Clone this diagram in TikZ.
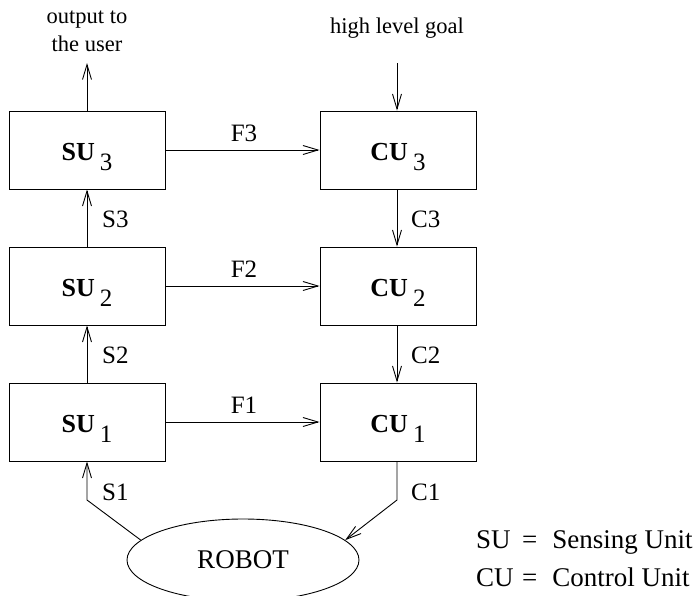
\documentclass[tikz,border=0pt]{standalone}
\usepackage{fontspec}
\setmainfont{Liberation Serif}
\usetikzlibrary{arrows.meta,shapes.geometric}
\newcommand\unittxt[2]{{\fontsize{26}{30}\selectfont\bfseries #1}\hspace{5pt}\raisebox{-10pt}{\fontsize{25}{30}\selectfont #2}}
\begin{document}
\begin{tikzpicture}[x=1pt,y=-1pt,
  unit/.style={draw, line width=0.9pt, minimum width=156pt, minimum height=78pt, inner sep=0pt, text height=20pt, text depth=0pt},
  conn/.style={line width=0.9pt, -{Straight Barb[length=15pt,width=9pt,line width=0.9pt]}},
  lbl/.style={font=\fontsize{25}{30}\selectfont, anchor=base, inner sep=0pt},
  lblw/.style={font=\fontsize{25}{30}\selectfont, anchor=base west, inner sep=0pt},
  toptxt/.style={font=\fontsize{22.5}{28}\selectfont, inner sep=0pt, align=center},
  legend/.style={font=\fontsize{27}{30}\selectfont, anchor=base west, inner sep=0pt}
]
\useasboundingbox (0,0) rectangle (694,595);
\clip (0,0) rectangle (694,595);

% units
\node[unit] (su3) at (87,150) {\unittxt{SU}{3}};
\node[unit] (su2) at (87,286) {\unittxt{SU}{2}};
\node[unit] (su1) at (87,422) {\unittxt{SU}{1}};
\node[unit] (cu3) at (398,150) {\unittxt{CU}{3}};
\node[unit] (cu2) at (398,286) {\unittxt{CU}{2}};
\node[unit] (cu1) at (398,422) {\unittxt{CU}{1}};

% robot
\node[draw, ellipse, line width=0.9pt, inner sep=0pt, minimum width=232pt, minimum height=82pt,
      font=\fontsize{27}{30}\selectfont] (robot) at (243,560) {ROBOT};

% top texts
\coordinate (out) at (87,63);
\coordinate (goal) at (397,63);
\node[toptxt] (outtxt) at (87,31.5) {output to\\the user};
\node[toptxt, anchor=base] (goaltxt) at (397,33) {high level goal};
\draw[conn] (su3.north) -- (out);
\draw[conn] (goal) -- (goal |- cu3.north);

% forward arrows
\draw[conn] (su3) -- (cu3);
\draw[conn] (su2) -- (cu2);
\draw[conn] (su1) -- (cu1);
\node[lbl] (f3) at (244,141) {F3};
\node[lbl] (f2) at (244,277) {F2};
\node[lbl] (f1) at (244,413) {F1};

% sensing chain
\draw[conn] (su2) -- (su3);
\draw[conn] (su1) -- (su2);
\coordinate (s1b) at (87,500);
\draw[conn] (robot.169.5) -- (s1b) -- (su1.south);
\node[lblw] (s3) at (102,227) {S3};
\node[lblw] (s2) at (102,363) {S2};
\node[lblw] (s1) at (102,500) {S1};

% control chain
\draw[conn] (goal |- cu3.south) -- (goal |- cu2.north);
\draw[conn] (goal |- cu2.south) -- (goal |- cu1.north);
\coordinate (c1b) at (397,500);
\draw[conn] (goal |- cu1.south) -- (c1b) -- (robot.11);
\node[lblw] (c3) at (411,227) {C3};
\node[lblw] (c2) at (411,363) {C2};
\node[lblw] (c1) at (411,500) {C1};

% legend
\node[legend] (leg1) at (476,548) {\makebox[46pt][l]{SU}=\hspace{15pt}Sensing Unit};
\node[legend] (leg2) at (476,586) {\makebox[46pt][l]{CU}=\hspace{15pt}Control Unit};
\end{tikzpicture}
\end{document}
